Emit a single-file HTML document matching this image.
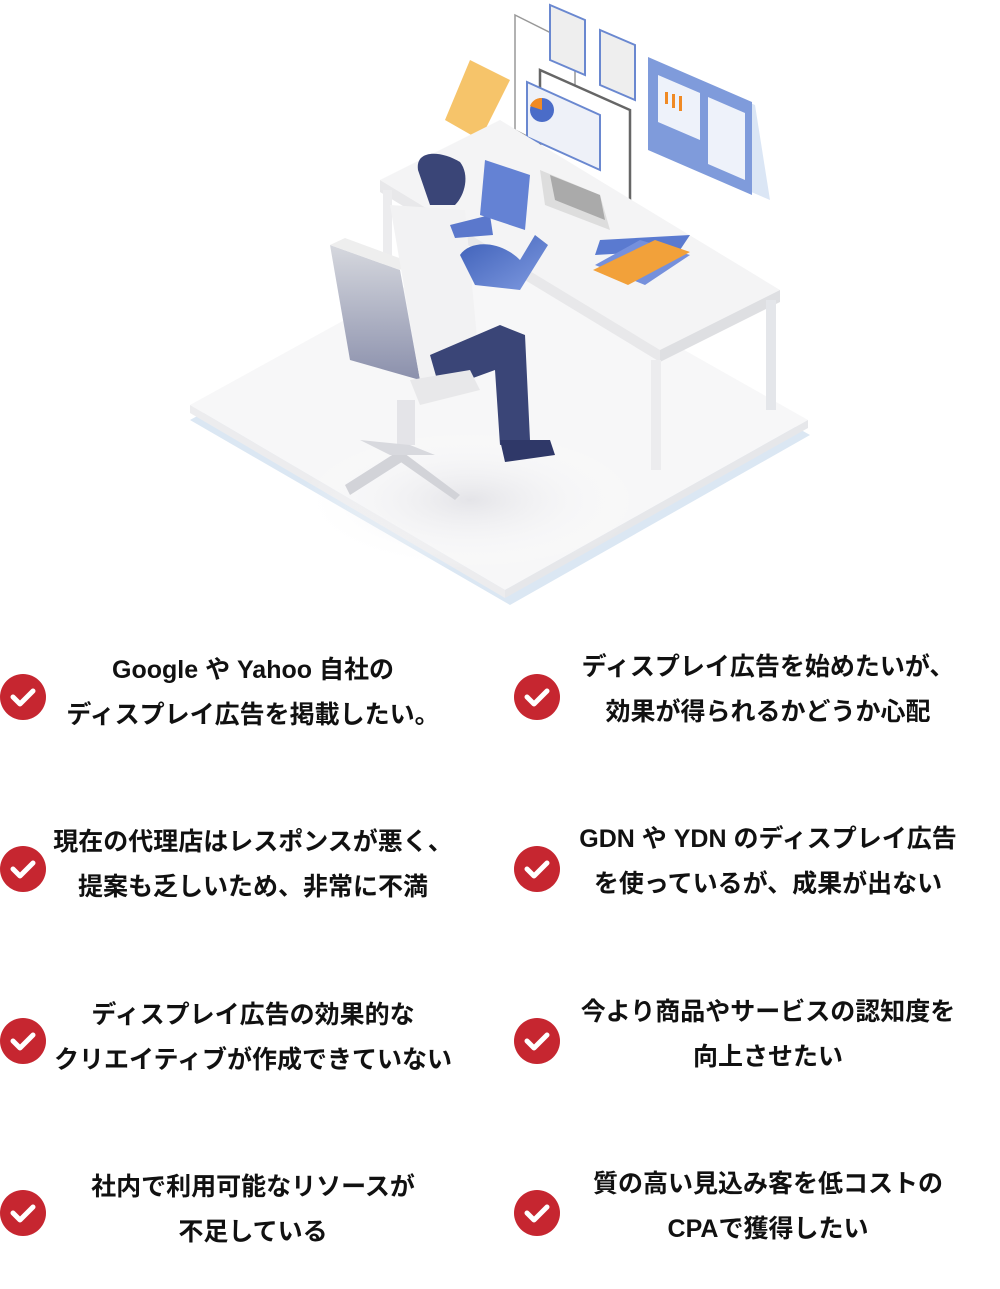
<!DOCTYPE html>
<html><head><meta charset="utf-8"><style>
body{margin:0;width:1000px;height:1289px;background:#fff;position:relative;overflow:hidden;font-family:"Liberation Sans","Noto Sans CJK JP",sans-serif;}
.c{position:absolute;width:46px;height:46px;border-radius:50%;background:#c62630;}
.c svg{position:absolute;left:0;top:0}
.t{position:absolute;width:480px;text-align:center;font-size:25px;line-height:45px;color:#111;font-weight:700;white-space:nowrap;}
</style></head><body>
<svg width="1000" height="620" style="position:absolute;left:0;top:0">
<defs>
<linearGradient id="ch" x1="0" y1="0" x2="0" y2="1"><stop offset="0" stop-color="#d6d8de"/><stop offset="1" stop-color="#8b90ac"/></linearGradient>
<linearGradient id="arm" x1="0" y1="0" x2="1" y2="1"><stop offset="0" stop-color="#3d5fb8"/><stop offset="1" stop-color="#7f9ae0"/></linearGradient>
<radialGradient id="sh" cx="0.5" cy="0.5" r="0.5"><stop offset="0" stop-color="#e4e4e8"/><stop offset="1" stop-color="#fff" stop-opacity="0"/></radialGradient>
</defs>
<polygon points="190,420 510,605 810,435 490,255" fill="#dbe7f3"/>
<polygon points="190,405 505,590 808,420 490,240" fill="#f7f7f8"/>
<polygon points="190,405 505,590 505,598 190,413" fill="#ececee"/>
<polygon points="505,590 808,420 808,428 505,598" fill="#e6e7ea"/>
<ellipse cx="470" cy="500" rx="170" ry="70" fill="url(#sh)"/>
<polygon points="515,15 575,45 575,160 515,130" fill="none" stroke="#999" stroke-width="1.5"/>
<polygon points="550,5 585,20 585,75 550,60" fill="#eee" stroke="#6a88d0" stroke-width="2"/>
<polygon points="600,30 635,45 635,100 600,85" fill="#eee" stroke="#6a88d0" stroke-width="2"/>
<polygon points="650,60 755,105 770,200 665,155" fill="#dbe6f5"/>
<polygon points="648,57 752,102 752,195 648,150" fill="#7f9bdb"/>
<polygon points="658,75 700,93 700,140 658,122" fill="#eef2fa"/>
<polygon points="708,97 745,113 745,180 708,164" fill="#eef2fa"/>
<rect x="665" y="92" width="3" height="12" fill="#f08a24"/><rect x="672" y="94" width="3" height="14" fill="#f08a24"/><rect x="679" y="96" width="3" height="15" fill="#f08a24"/>
<polygon points="470,60 510,80 480,140 445,120" fill="#f6c46a"/>
<polygon points="540,70 630,110 630,210 540,170" fill="#fff" stroke="#666" stroke-width="2.5"/>
<polygon points="527,82 600,115 600,170 527,137" fill="#eef1f8" stroke="#6a88d0" stroke-width="2"/>
<circle cx="542" cy="110" r="12" fill="#4a6cc8"/><path d="M542,110 L542,98 A12,12 0 0 0 530,106 Z" fill="#f08a24"/>
<polygon points="380,180 500,120 780,290 660,350" fill="#f4f4f5"/>
<polygon points="380,180 660,350 660,362 380,192" fill="#e8e8ea"/>
<polygon points="660,350 780,290 780,302 660,362" fill="#dedfe2"/>
<rect x="651" y="360" width="10" height="110" fill="#ececee"/>
<rect x="766" y="300" width="10" height="110" fill="#e4e6ea"/>
<rect x="383" y="190" width="9" height="90" fill="#ececee"/>
<polygon points="540,170 600,195 610,230 545,205" fill="#ddd"/>
<polygon points="550,175 600,195 605,220 555,200" fill="#888" opacity=".6"/>
<polygon points="600,240 690,235 680,250 595,255" fill="#5a7ad0"/>
<polygon points="595,265 640,240 690,255 645,285" fill="#7590dc"/>
<polygon points="593,270 655,240 690,252 628,285" fill="#f2a13a"/>
<polygon points="330,245 400,270 420,380 350,360" fill="url(#ch)"/>
<polygon points="330,245 345,238 410,262 400,270" fill="#eee"/>
<polygon points="390,205 465,210 480,370 420,380" fill="#f2f2f3"/>
<path d="M418,170 C415,150 440,150 460,162 C470,175 465,195 455,205 L430,205 Z" fill="#3a4577"/>
<path d="M460,255 C470,240 500,240 520,260 L535,235 L548,245 L520,290 L475,285 Z" fill="url(#arm)"/>
<polygon points="450,225 490,215 493,235 455,238" fill="#5b78cc"/>
<polygon points="485,160 530,175 525,230 480,215" fill="#6482d4"/>
<path d="M430,355 L500,325 L525,335 L530,440 L500,445 L495,370 L440,390 Z" fill="#3a4577"/>
<polygon points="500,440 550,440 555,455 505,462" fill="#2f3868"/>
<polygon points="410,380 470,370 480,390 420,405" fill="#e8e8ea"/>
<rect x="397" y="400" width="18" height="45" fill="#e4e4e8"/>
<polygon points="345,485 400,450 405,460 350,495" fill="#d2d3d8"/>
<polygon points="400,450 460,495 455,500 395,458" fill="#d2d3d8"/>
<polygon points="360,440 410,445 435,455 390,455" fill="#d8d9de"/>
</svg>
<div class="c" style="left:0;top:674px"><svg width="46" height="46"><path d="M13,23 L20,30 L33,17" fill="none" stroke="#fff" stroke-width="5" stroke-linecap="round" stroke-linejoin="round"/></svg></div>
<div class="c" style="left:514px;top:674px"><svg width="46" height="46"><path d="M13,23 L20,30 L33,17" fill="none" stroke="#fff" stroke-width="5" stroke-linecap="round" stroke-linejoin="round"/></svg></div>
<div class="c" style="left:0;top:846px"><svg width="46" height="46"><path d="M13,23 L20,30 L33,17" fill="none" stroke="#fff" stroke-width="5" stroke-linecap="round" stroke-linejoin="round"/></svg></div>
<div class="c" style="left:514px;top:846px"><svg width="46" height="46"><path d="M13,23 L20,30 L33,17" fill="none" stroke="#fff" stroke-width="5" stroke-linecap="round" stroke-linejoin="round"/></svg></div>
<div class="c" style="left:0;top:1018px"><svg width="46" height="46"><path d="M13,23 L20,30 L33,17" fill="none" stroke="#fff" stroke-width="5" stroke-linecap="round" stroke-linejoin="round"/></svg></div>
<div class="c" style="left:514px;top:1018px"><svg width="46" height="46"><path d="M13,23 L20,30 L33,17" fill="none" stroke="#fff" stroke-width="5" stroke-linecap="round" stroke-linejoin="round"/></svg></div>
<div class="c" style="left:0;top:1190px"><svg width="46" height="46"><path d="M13,23 L20,30 L33,17" fill="none" stroke="#fff" stroke-width="5" stroke-linecap="round" stroke-linejoin="round"/></svg></div>
<div class="c" style="left:514px;top:1190px"><svg width="46" height="46"><path d="M13,23 L20,30 L33,17" fill="none" stroke="#fff" stroke-width="5" stroke-linecap="round" stroke-linejoin="round"/></svg></div>

<div class="t" style="left:13px;top:648px">Google や Yahoo 自社の<br>ディスプレイ広告を掲載したい。</div>
<div class="t" style="left:528px;top:645px">ディスプレイ広告を始めたいが、<br>効果が得られるかどうか心配</div>
<div class="t" style="left:13px;top:820px">現在の代理店はレスポンスが悪く、<br>提案も乏しいため、非常に不満</div>
<div class="t" style="left:528px;top:817px">GDN や YDN のディスプレイ広告<br>を使っているが、成果が出ない</div>
<div class="t" style="left:13px;top:993px">ディスプレイ広告の効果的な<br>クリエイティブが作成できていない</div>
<div class="t" style="left:528px;top:990px">今より商品やサービスの認知度を<br>向上させたい</div>
<div class="t" style="left:13px;top:1165px">社内で利用可能なリソースが<br>不足している</div>
<div class="t" style="left:528px;top:1162px">質の高い見込み客を低コストの<br>CPAで獲得したい</div>
</body></html>
